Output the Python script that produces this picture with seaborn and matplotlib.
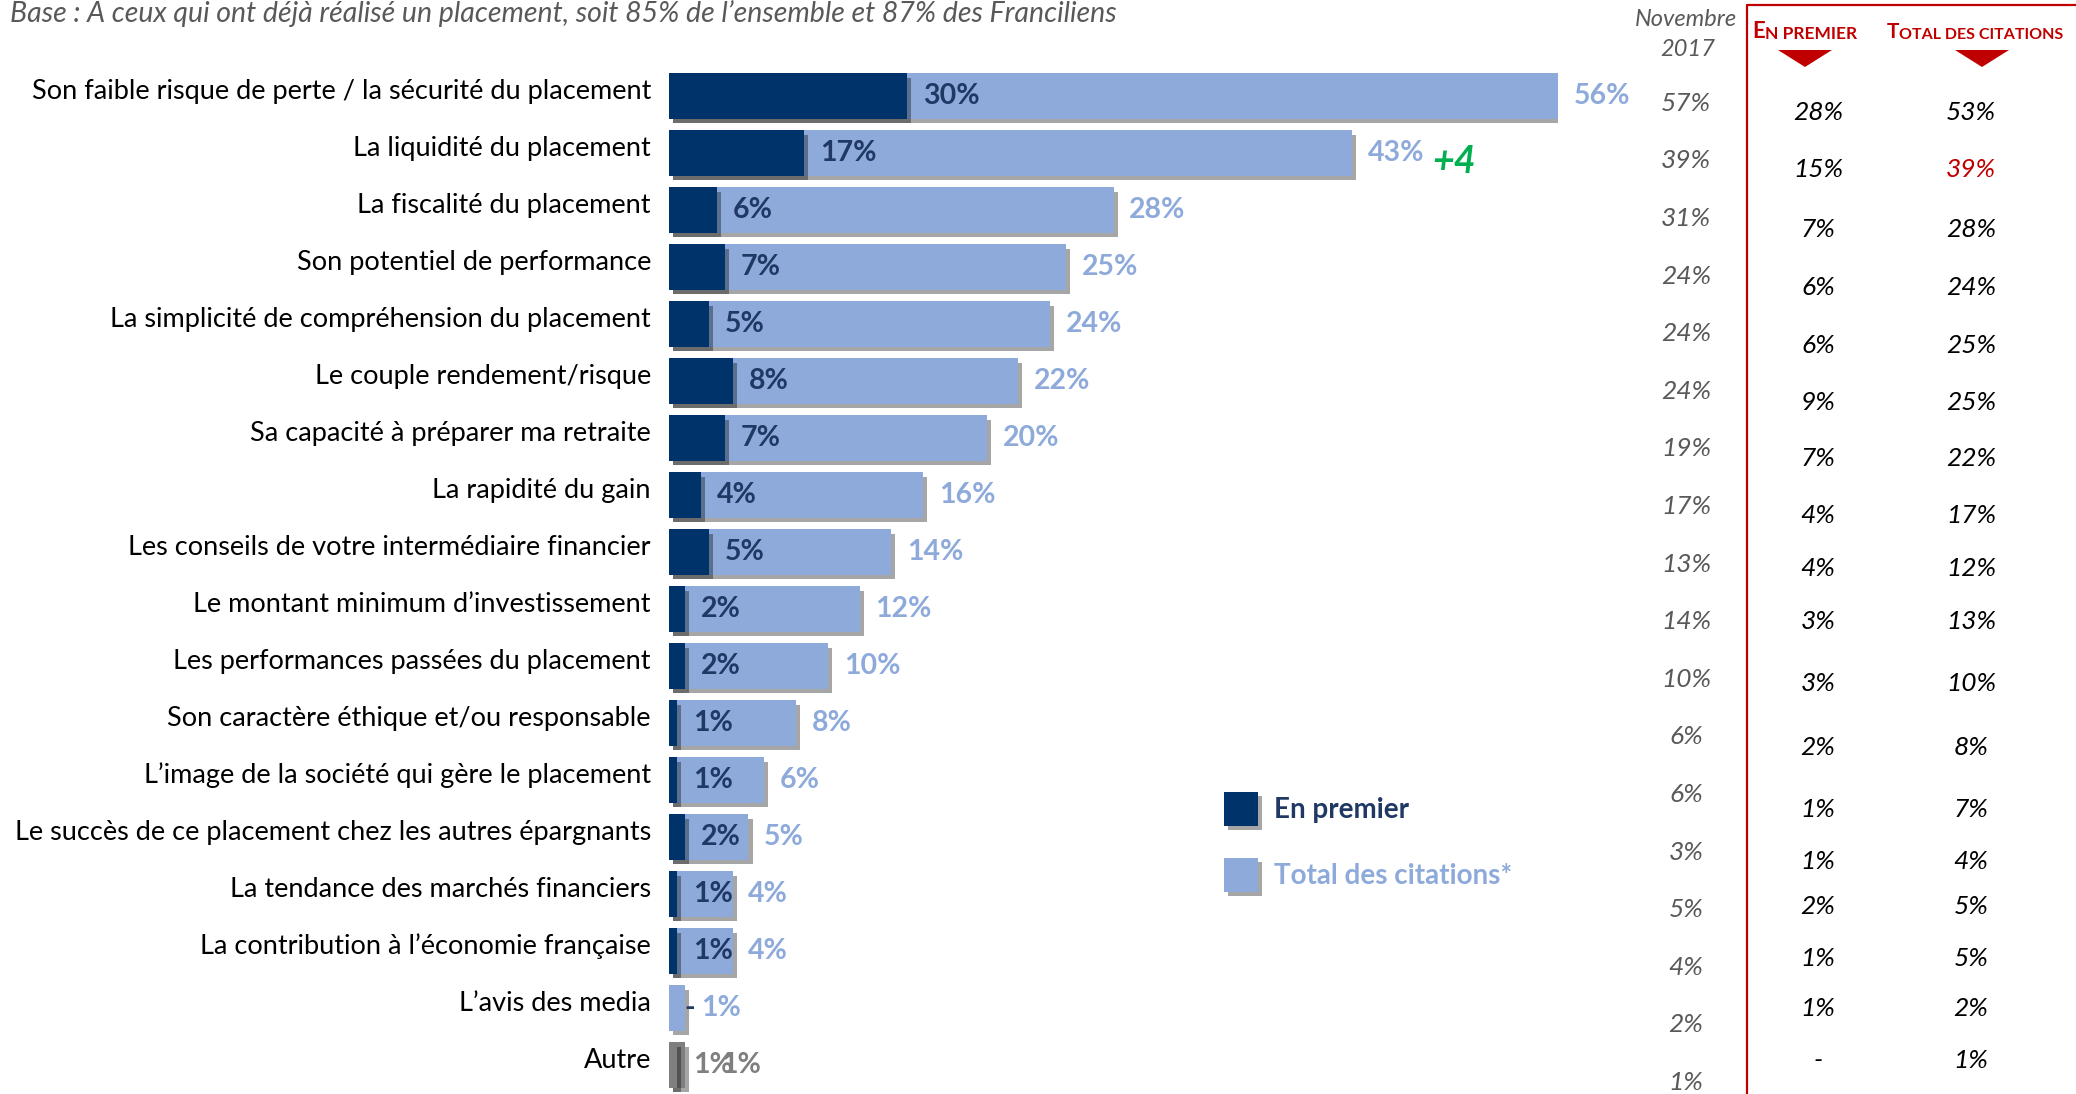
import pandas as pd
import matplotlib.pyplot as plt
import matplotlib.patheffects as pe
from matplotlib.transforms import blended_transform_factory, ScaledTranslation
from matplotlib.patches import Rectangle, Polygon
from matplotlib.lines import Line2D
import seaborn as sns

# Data
categories = [
    "Son faible risque de perte / la sécurité du placement",
    "La liquidité du placement",
    "La fiscalité du placement",
    "Son potentiel de performance",
    "La simplicité de compréhension du placement",
    "Le couple rendement/risque",
    "Sa capacité à préparer ma retraite",
    "La rapidité du gain",
    "Les conseils de votre intermédiaire financier",
    "Le montant minimum d’investissement",
    "Les performances passées du placement",
    "Son caractère éthique et/ou responsable",
    "L’image de la société qui gère le placement",
    "Le succès de ce placement chez les autres épargnants",
    "La tendance des marchés financiers",
    "La contribution à l’économie française",
    "L’avis des media",
    "Autre",
]
premier = [30, 17, 6, 7, 5, 8, 7, 4, 5, 2, 2, 1, 1, 2, 1, 1, 0, 1]
total = [56, 43, 28, 25, 24, 22, 20, 16, 14, 12, 10, 8, 6, 5, 4, 4, 1, 1]
premier_labels = ["30%", "17%", "6%", "7%", "5%", "8%", "7%", "4%", "5%", "2%",
                  "2%", "1%", "1%", "2%", "1%", "1%", "-", "1%"]
nov_2017 = ["57%", "39%", "31%", "24%", "24%", "24%", "19%", "17%", "13%", "14%",
            "10%", "6%", "6%", "3%", "5%", "4%", "2%", "1%"]
table_premier = ["28%", "15%", "7%", "6%", "6%", "9%", "7%", "4%", "4%", "3%",
                 "3%", "2%", "1%", "1%", "2%", "1%", "1%", "-"]
table_total = ["53%", "39%", "28%", "24%", "25%", "25%", "22%", "17%", "12%", "13%",
               "10%", "8%", "7%", "4%", "5%", "5%", "2%", "1%"]
evolution = {1: "+4"}

# Layout (row positions of the right-hand table, in bar rows)
table_rows = [0.29, 1.29, 2.34, 3.36, 4.38, 5.38, 6.36, 7.36, 8.29, 9.22,
              10.31, 11.43, 12.52, 13.43, 14.22, 15.13, 16.01, 16.92]

# Colours
navy = "#00336a"
navy_text = "#1f3864"
light = "#8eaadb"
grey_bar = "#7f7f7f"
grey_text = "#595959"
red = "#c00000"

df = pd.DataFrame({"Categorie": categories, "Premier": premier, "Total": total})
n = len(categories)
total_colors = [light] * (n - 1) + [grey_bar]
premier_colors = [navy] * (n - 1) + [grey_bar]

sns.set_style("white")
plt.rcParams["font.family"] = ["Lato", "DejaVu Sans"]

W, H = 2076, 1094
fig = plt.figure(figsize=(W / 100, H / 100), dpi=100)

def fx(px):
    return px / W

def fy(py):
    return 1 - py / H

ax = fig.add_axes([fx(669), fy(1093.5), fx(1558) - fx(669), fy(67.5) - fy(1093.5)])

# Total des citations (light bars)
sns.barplot(data=df, x="Total", y="Categorie", hue="Categorie", palette=total_colors,
            orient="h", width=0.79, legend=False, ax=ax, saturation=1)

# En premier (dark bars) on a secondary scale
ax2 = ax.twiny()
sns.barplot(data=df, x="Premier", y="Categorie", hue="Categorie", palette=premier_colors,
            orient="h", width=0.79, legend=False, ax=ax2, saturation=1)

shadow = [pe.withSimplePatchShadow(offset=(3, -3), shadow_rgbFace="black", alpha=0.35)]
for a in (ax, ax2):
    for p in a.patches:
        p.set_path_effects(shadow)
        p.set_edgecolor("none")

ax.set_xlim(0, 56)
ax2.set_xlim(0, 112)
ax.set_ylim(n - 0.5, -0.5)
ax2.set_ylim(n - 0.5, -0.5)

for a in (ax, ax2):
    sns.despine(ax=a, left=True, bottom=True, top=True, right=True)
    a.set_xlabel("")
    a.set_ylabel("")
    a.set_xticks([])
    a.grid(False)
ax2.set_yticks([])

ax.tick_params(axis="y", length=0, pad=13)
ax.set_yticks(range(n))
ax.set_yticklabels(categories, fontsize=19.5, color="black")
shift = ScaledTranslation(0, 0.07, fig.dpi_scale_trans)
for lab in ax.get_yticklabels():
    lab.set_transform(lab.get_transform() + shift)

# Value labels
for i in range(n):
    c_dark = grey_bar if i == n - 1 else navy_text
    c_light = grey_bar if i == n - 1 else light
    ax2.text(premier[i] + 2, i, premier_labels[i], va="center", ha="left",
             fontsize=20.5, fontweight="bold", color=c_dark)
    x_light = total[i] + 1
    if premier[i] > 0:
        x_light = max(x_light, premier[i] / 2 + 2.8)
    ax.text(x_light, i, f"{total[i]}%", va="center", ha="left",
            fontsize=20.5, fontweight="bold", color=c_light)

for i, txt in evolution.items():
    ax.text(total[i] + 5.1, i + 0.15, txt, va="center", ha="left", fontsize=27,
            fontweight="bold", fontstyle="italic", color="#00b050")

# Title
fig.text(fx(10), fy(14), "Base : A ceux qui ont déjà réalisé un placement, soit 85% de l’ensemble et 87% des Franciliens",
         fontsize=20.5, fontstyle="italic", color=grey_text, va="center", ha="left")

# Novembre 2017 column
fig.text(fx(1686), fy(20), "Novembre", fontsize=17, fontstyle="italic", color=grey_text,
         ha="center", va="center")
fig.text(fx(1688), fy(49), "2017", fontsize=17, fontstyle="italic", color=grey_text,
         ha="center", va="center")
tr = blended_transform_factory(fig.transFigure, ax.transData)
for i in range(n):
    ax.text(fx(1686), 0.128 + 1.0105 * i, nov_2017[i], transform=tr, fontsize=19,
            fontstyle="italic", color=grey_text, ha="center", va="center")

# Red box with the current table
fig.add_artist(Line2D([fx(1747), fx(1747)], [fy(5), 0], color=red, lw=1.6))
fig.add_artist(Line2D([fx(1747), 1], [fy(5), fy(5)], color=red, lw=1.6))

t1 = fig.text(fx(1752), fy(38), "E", fontsize=16, fontweight="bold", color=red,
              ha="left", va="baseline")
ax.annotate("N PREMIER", xy=(1, 0), xycoords=t1, fontsize=12.5, fontweight="bold",
            color=red, ha="left", va="bottom", annotation_clip=False)
t2 = fig.text(fx(1887), fy(38), "T", fontsize=15, fontweight="bold", color=red,
              ha="left", va="baseline")
ax.annotate("OTAL DES CITATIONS", xy=(1, 0), xycoords=t2, fontsize=11.5, fontweight="bold",
            color=red, ha="left", va="bottom", annotation_clip=False)
for cx in (1805, 1982):
    fig.add_artist(Polygon([(fx(cx - 27), fy(50)), (fx(cx + 27), fy(50)), (fx(cx), fy(67))],
                           closed=True, facecolor=red, edgecolor="none"))

for i in range(n):
    ax.text(fx(1818), table_rows[i], table_premier[i], transform=tr, fontsize=19,
            fontstyle="italic", color="black", ha="center", va="center")
    ax.text(fx(1971), table_rows[i], table_total[i], transform=tr, fontsize=19,
            fontstyle="italic", color=red if i == 1 else "black", ha="center", va="center")

# Legend
for (y0, col, lab) in [(792, navy, "En premier"), (858, light, "Total des citations*")]:
    sq = Rectangle((fx(1224), fy(y0 + 34)), fx(34), 34 / H, transform=fig.transFigure,
                   facecolor=col, edgecolor="none")
    sq.set_path_effects(shadow)
    fig.add_artist(sq)
    fig.text(fx(1274), fy(y0 + 18), lab, fontsize=20, fontweight="bold",
             color=navy_text if col == navy else light, ha="left", va="center")

plt.savefig("out.png", dpi=100)
print("Chart saved: out.png")
